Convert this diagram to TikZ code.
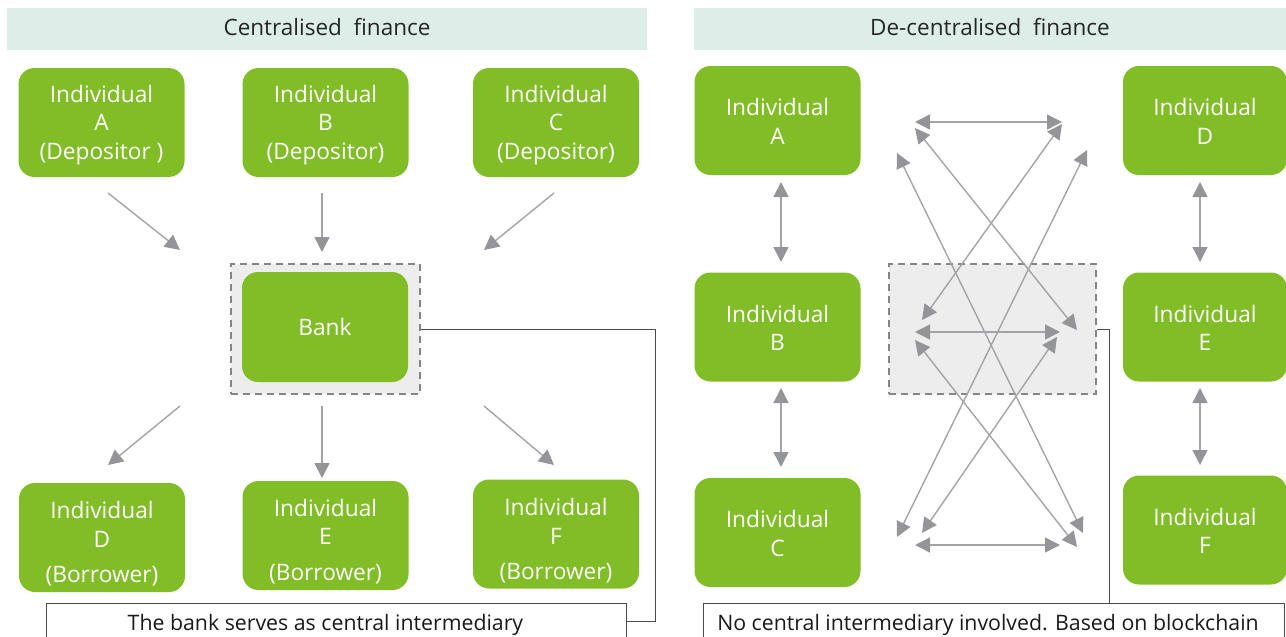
\documentclass[tikz,border=0pt]{standalone}
\usepackage{fontspec}
\setmainfont{Open Sans}
\usetikzlibrary{arrows.meta}
\definecolor{grn}{HTML}{80BD27}
\definecolor{hdr}{HTML}{DDEEE8}
\definecolor{arrc}{HTML}{A3A4A8}
\definecolor{arrh}{HTML}{939598}
\definecolor{bxfill}{HTML}{EDEDED}
\definecolor{dsh}{HTML}{858585}
\definecolor{lbl}{HTML}{4A4A4A}
\begin{document}
\begin{tikzpicture}[x=1pt,y=-1pt,
  indiv/.style={fill=grn, rounded corners=16pt, inner sep=0pt, minimum width=166pt, minimum height=109pt},
  itext/.style={text=white, font=\fontsize{22.7}{28.5}\selectfont, align=center, inner sep=0pt},
  header/.style={fill=hdr, inner sep=0pt, font=\fontsize{22.5}{26}\selectfont, text=black!85},
  dbox/.style={fill=bxfill, draw=dsh, line width=1.8pt, dash pattern=on 7pt off 5pt, inner sep=0pt},
  note/.style={draw=lbl, line width=1pt, fill=white, inner sep=0pt, font=\fontsize{21.3}{25}\selectfont, text=black!90},
  link/.style={draw=lbl, line width=1pt},
  onearrow/.style={draw=arrc, line width=1.4pt, -{Triangle[length=15pt,width=15pt,color=arrh]}},
  twoarrow/.style={draw=arrc, line width=1.4pt, {Triangle[length=15pt,width=15pt,color=arrh]}-{Triangle[length=15pt,width=15pt,color=arrh]}}
]
\useasboundingbox (0,0) rectangle (1286,637);

% headers
\node[header, minimum width=640pt, minimum height=42pt] (hL) at (327,29) {Centralised\ \ finance\rule[-4pt]{0pt}{1pt}};
\node[header, minimum width=592pt, minimum height=42pt] (hR) at (990,29) {De-centralised\ \ finance\rule[-4pt]{0pt}{1pt}};

% ---------------- left panel
\node[indiv] (LA) at (101.5,122.5) {};
\node[itext] (LAt) at ([yshift=-2.5pt]LA.center) {Individual\\A\\(Depositor )};
\node[indiv] (LB) at (325.5,122.5) {};
\node[itext] (LBt) at ([yshift=-2.5pt]LB.center) {Individual\\B\\(Depositor)};
\node[indiv] (LC) at (556,122.5) {};
\node[itext] (LCt) at ([yshift=-2.5pt]LC.center) {Individual\\C\\(Depositor)};

\node[dbox, minimum width=189pt, minimum height=130pt] (bankbox) at (325.5,329) {};
\node[indiv, minimum height=110pt] (bank) at (325,327) {};
\node[itext] (bankt) at (bank.center) {Bank};

\node[indiv] (LD) at (102,537.5) {};
\node[itext] (LDt) at ([yshift=-6.5pt]LD.center) {Individual\\D\\[7pt](Borrower)};
\node[indiv] (LE) at (325.5,535.5) {};
\node[itext] (LEt) at ([yshift=-6pt]LE.center) {Individual\\E\\[7pt](Borrower)};
\node[indiv] (LF) at (556,534) {};
\node[itext] (LFt) at ([yshift=-7pt]LF.center) {Individual\\F\\[7pt](Borrower)};

\coordinate (a1) at (108,193); \coordinate (a2) at (180,250);
\coordinate (b1) at (322,193); \coordinate (b2) at (322,252);
\coordinate (c1) at (554,193); \coordinate (c2) at (484,250);
\coordinate (d1) at (180,406); \coordinate (d2) at (108,465);
\coordinate (e1) at (322,406); \coordinate (e2) at (322,478);
\coordinate (f1) at (484,406); \coordinate (f2) at (554,465);
\foreach \p in {a,b,c,d,e,f} \draw[onearrow] (\p1) -- (\p2);

\node[note, minimum width=580pt, minimum height=37pt] (noteL) at (336,621.5) {\rule{0pt}{23pt}The bank serves as central intermediary\hspace*{21pt}};
\draw[link] (bankbox.east) -- ++(235,0) coordinate (kL) -- (kL |- noteL.east) -- (noteL.east);

% ---------------- right panel
\node[indiv] (RA) at (777.5,120.5) {};
\node[itext] (RAt) at ([yshift=-1pt]RA.center) {Individual\\A};
\node[indiv] (RB) at (777.5,327) {};
\node[itext] (RBt) at ([yshift=-1pt]RB.center) {Individual\\B};
\node[indiv] (RC) at (777.5,532.5) {};
\node[itext] (RCt) at ([yshift=-1pt]RC.center) {Individual\\C};
\node[indiv, minimum width=164pt] (RD) at (1205,120.5) {};
\node[itext] (RDt) at ([yshift=-1pt]RD.center) {Individual\\D};
\node[indiv, minimum width=164pt] (RE) at (1205,327) {};
\node[itext] (REt) at ([yshift=-1pt]RE.center) {Individual\\E};
\node[indiv, minimum width=164pt] (RF) at (1205,530) {};
\node[itext] (RFt) at ([yshift=-1pt]RF.center) {Individual\\F};

\coordinate (v1a) at (781,182);  \coordinate (v1b) at (781,262);
\coordinate (v2a) at (781,388);  \coordinate (v2b) at (781,467);
\coordinate (v3a) at (1200,182); \coordinate (v3b) at (1200,262);
\coordinate (v4a) at (1200,388); \coordinate (v4b) at (1200,465);
\foreach \p in {v1,v2,v3,v4} \draw[twoarrow] (\p a) -- (\p b);

\node[dbox, minimum width=207pt, minimum height=130pt] (chain) at (992.5,329) {};

\coordinate (h1a) at (915,122);  \coordinate (h1b) at (1062,122);
\coordinate (h2a) at (915,332);  \coordinate (h2b) at (1060,332);
\coordinate (h3a) at (915,545);  \coordinate (h3b) at (1060,545);
\coordinate (x1a) at (915,128);  \coordinate (x1b) at (1077,330);
\coordinate (x2a) at (897,153);  \coordinate (x2b) at (1083,533);
\coordinate (x3a) at (1062,124); \coordinate (x3b) at (922,320);
\coordinate (x4a) at (1087,150); \coordinate (x4b) at (897,537);
\coordinate (x5a) at (915,340);  \coordinate (x5b) at (1077,547);
\coordinate (x6a) at (1057,337); \coordinate (x6b) at (922,533);
\foreach \p in {h1,h2,h3,x1,x2,x3,x4,x5,x6} \draw[twoarrow] (\p a) -- (\p b);

\node[note, minimum width=581pt, minimum height=37pt] (noteR) at (993.5,621.5) {\rule{0pt}{23pt}No central intermediary involved. Based on blockchain\hspace*{11pt}};
\draw[link] (chain.east) -- ++(13,0) coordinate (kR) -- (kR |- noteR.north);
\end{tikzpicture}
\end{document}
